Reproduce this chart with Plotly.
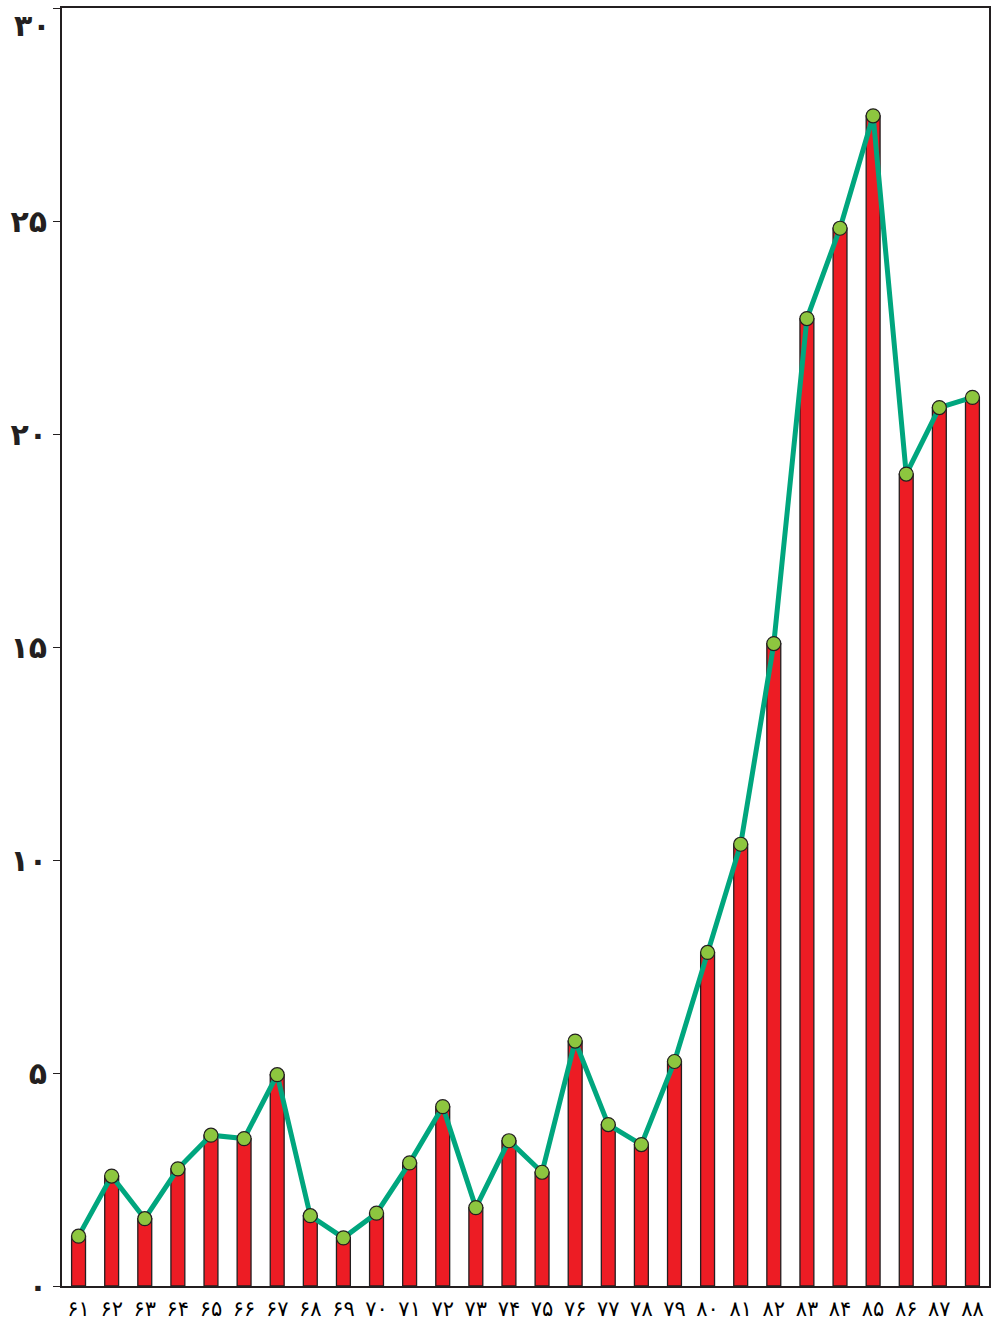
import plotly.graph_objects as go

def fa(n):
    return str(n).translate(str.maketrans("0123456789", "۰۱۲۳۴۵۶۷۸۹"))

years = list(range(61, 89))
categories = [fa(y) for y in years]
values = [1.17, 2.58, 1.58, 2.75, 3.54, 3.46, 4.96, 1.65, 1.13, 1.71,
          2.89, 4.21, 1.84, 3.41, 2.67, 5.75, 3.79, 3.32, 5.27, 7.83,
          10.37, 15.08, 22.71, 24.83, 27.47, 19.06, 20.62, 20.86]
y_ticks = [0, 5, 10, 15, 20, 25, 30]
y_tick_labels = [fa(v) for v in y_ticks]

DARK = "#231F20"
YFONT = dict(size=30, family="DejaVu Sans", color=DARK, weight="bold")

fig = go.Figure()
fig.add_trace(go.Bar(
    x=categories, y=values, width=0.42,
    marker=dict(color="#ED1C24", line=dict(color=DARK, width=1.3)),
    hoverinfo="skip", showlegend=False,
))
fig.add_trace(go.Scatter(
    x=categories, y=values, mode="lines+markers",
    line=dict(color="#00A67E", width=5),
    marker=dict(size=14, color="#8DC63F", line=dict(color=DARK, width=1.2)),
    showlegend=False,
))

fig.update_layout(
    width=996, height=1326,
    margin=dict(l=62, r=5, t=8, b=39),
    plot_bgcolor="white", paper_bgcolor="white",
    font=dict(family="DejaVu Sans", color=DARK),
)
fig.update_xaxes(
    type="category", range=[-0.5, 27.5],
    showline=True, linecolor=DARK, linewidth=2, mirror=True,
    ticks="", showgrid=False,
    tickfont=dict(size=21, family="DejaVu Sans", color="#000000"),
    ticklabelstandoff=3,
)
# the top tick label would be clipped at the page edge, so it is placed just below its tick
fig.update_yaxes(
    range=[0, 30], tickvals=y_ticks, ticktext=y_tick_labels[:-1] + [""],
    showline=True, linecolor=DARK, linewidth=2, mirror=True,
    ticks="outside", ticklen=7, tickwidth=1.2, tickcolor=DARK,
    showgrid=False, zeroline=False,
    tickfont=YFONT,
)
fig.add_annotation(
    x=0, xref="paper", xanchor="right", xshift=-9,
    y=y_ticks[-1], yref="y", yanchor="top", yshift=2,
    text=y_tick_labels[-1], showarrow=False, font=YFONT,
)

fig.write_html(
    "out.html",
    config={"displayModeBar": False},
    post_script="document.body.style.margin='0';document.body.style.overflow='hidden';",
)
